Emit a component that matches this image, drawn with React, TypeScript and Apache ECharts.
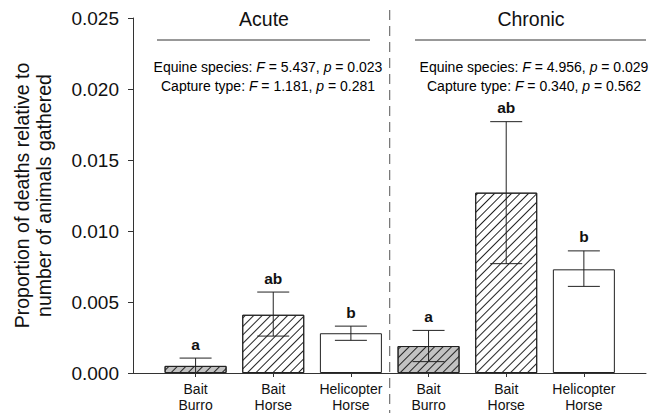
import React, { useEffect, useRef } from "react";
import * as echarts from "echarts";

const categories = ["Bait\nBurro", "Bait\nHorse", "Helicopter\nHorse", "Bait\nBurro", "Bait\nHorse", "Helicopter\nHorse"];
const groups = ["Acute", "Chronic"];
const means = [0.0005, 0.0041, 0.0028, 0.0019, 0.0127, 0.0073];
const upperErr = [0.00105, 0.0057, 0.0033, 0.003, 0.0177, 0.0086];
const lowerErr = [0.0, 0.0026, 0.0023, 0.0008, 0.0077, 0.0061];
const letters = ["a", "ab", "b", "a", "ab", "b"];
const fillKind = ["burro", "horse", "heli", "burro", "horse", "heli"];
const statsAcute = [
  ["Equine species: ", "5.437", "0.023"],
  ["Capture type: ", "1.181", "0.281"],
];
const statsChronic = [
  ["Equine species: ", "4.956", "0.029"],
  ["Capture type: ", "0.340", "0.562"],
];
const yTicks = [0, 0.005, 0.01, 0.015, 0.02, 0.025];

const FONT = "Liberation Sans, Arial, sans-serif";

function statText(rows: string[][]) {
  return rows
    .map((r) => `{n|${r[0]}}{i|F}{n| = ${r[1]}, }{i|p}{n| = ${r[2]}}`)
    .join("\n");
}

export default function App() {
  const ref = useRef<HTMLDivElement>(null);
  useEffect(() => {
    if (!ref.current) return;
    const chart = echarts.init(ref.current, undefined, { renderer: "svg" });
    const hatch = {
      symbol: "rect",
      symbolSize: 1,
      dashArrayX: [[1, 0]],
      dashArrayY: [1, 5],
      rotation: -Math.PI / 4,
      color: "#222",
    };
    const barData = means.map((v, i) => {
      const k = fillKind[i];
      return {
        value: [i, v],
        itemStyle: {
          color: k === "burro" ? "#c2c2c2" : "#ffffff",
          borderColor: "#222",
          borderWidth: 1,
          decal: k === "heli" ? undefined : hatch,
        },
      };
    });
    const errData = means.map((_, i) => [i, lowerErr[i], upperErr[i]]);
    const rich = {
      n: { fontSize: 14, fontFamily: FONT, color: "#111", lineHeight: 19 },
      i: { fontSize: 14, fontFamily: FONT, color: "#111", fontStyle: "italic", lineHeight: 19 },
    };
    const option: any = {
      animation: false,
      grid: { left: 133, right: 18, top: 18, bottom: 40, containLabel: false },
      xAxis: {
        type: "value",
        min: -0.806,
        max: 5.8,
        splitLine: { show: false },
        axisTick: { show: true, length: 4, lineStyle: { color: "#333" } },
        axisLine: { show: true, onZero: false, lineStyle: { color: "#333", width: 1 } },
        axisLabel: {
          showMinLabel: false,
          showMaxLabel: false,
          margin: 8,
          fontSize: 14,
          lineHeight: 16,
          fontFamily: FONT,
          color: "#111",
          formatter: (v: number) => {
            const i = Math.round(v);
            if (Math.abs(v - i) > 1e-6 || i < 0 || i >= categories.length) return "";
            return categories[i];
          },
        },
      },
      yAxis: {
        type: "value",
        min: 0,
        max: 0.025,
        interval: 0.005,
        splitLine: { show: false },
        axisLine: { show: true, onZero: false, lineStyle: { color: "#333", width: 1 } },
        axisTick: { show: true, length: 5, lineStyle: { color: "#333" } },
        axisLabel: {
          fontSize: 19,
          fontFamily: FONT,
          color: "#111",
          margin: 14,
          formatter: (v: number) => (yTicks.some((t) => Math.abs(t - v) < 1e-9) ? v.toFixed(3) : ""),
        },
        name: "Proportion of deaths relative to\nnumber of animals gathered",
        nameLocation: "middle",
        nameGap: 78,
        nameTextStyle: { fontSize: 19.5, fontFamily: FONT, color: "#111", lineHeight: 22 },
      },
      series: [
        {
          type: "bar",
          barWidth: 62,
          data: barData,
        },
        {
          type: "custom",
          data: errData,
          z: 5,
          renderItem: (params: any, api: any) => {
            const x = api.value(0);
            const lo = api.coord([x, api.value(1)]);
            const hi = api.coord([x, api.value(2)]);
            const hw = 16;
            const ls = { stroke: "#222", lineWidth: 1 };
            return {
              type: "group",
              children: [
                { type: "line", shape: { x1: hi[0], y1: hi[1], x2: lo[0], y2: lo[1] }, style: ls },
                { type: "line", shape: { x1: hi[0] - hw, y1: hi[1], x2: hi[0] + hw, y2: hi[1] }, style: ls },
                { type: "line", shape: { x1: lo[0] - hw, y1: lo[1], x2: lo[0] + hw, y2: lo[1] }, style: ls },
                {
                  type: "text",
                  x: hi[0],
                  y: hi[1] - 6,
                  style: {
                    text: letters[params.dataIndex],
                    fontSize: 15.5,
                    fontWeight: "bold",
                    fontFamily: FONT,
                    fill: "#111",
                    align: "center",
                    verticalAlign: "bottom",
                  },
                },
              ],
            };
          },
        },
      ],
    };
    chart.setOption(option);
    const divX = chart.convertToPixel({ xAxisIndex: 0 }, 2.5) as number;
    chart.setOption({
      graphic: [
        {
          type: "line",
          shape: { x1: divX, y1: 10, x2: divX, y2: 413 },
          style: { stroke: "#555", lineWidth: 1, lineDash: [10, 6] },
        },
        { type: "line", shape: { x1: 157, y1: 40, x2: 370, y2: 40 }, style: { stroke: "#333", lineWidth: 1 } },
        { type: "line", shape: { x1: 415, y1: 40, x2: 646, y2: 40 }, style: { stroke: "#333", lineWidth: 1 } },
        {
          type: "text",
          x: 264,
          y: 19,
          style: { text: groups[0], fontSize: 19.5, fontFamily: FONT, fill: "#111", align: "center", verticalAlign: "middle" },
        },
        {
          type: "text",
          x: 531,
          y: 19,
          style: { text: groups[1], fontSize: 19.5, fontFamily: FONT, fill: "#111", align: "center", verticalAlign: "middle" },
        },
        {
          type: "text",
          x: 268,
          y: 57,
          style: { text: statText(statsAcute), rich, align: "center", verticalAlign: "top" },
        },
        {
          type: "text",
          x: 534,
          y: 57,
          style: { text: statText(statsChronic), rich, align: "center", verticalAlign: "top" },
        },
      ],
    });
    return () => chart.dispose();
  }, []);
  return <div ref={ref} style={{ width: 664, height: 413, position: "absolute", left: 0, top: 0 }} />;
}
